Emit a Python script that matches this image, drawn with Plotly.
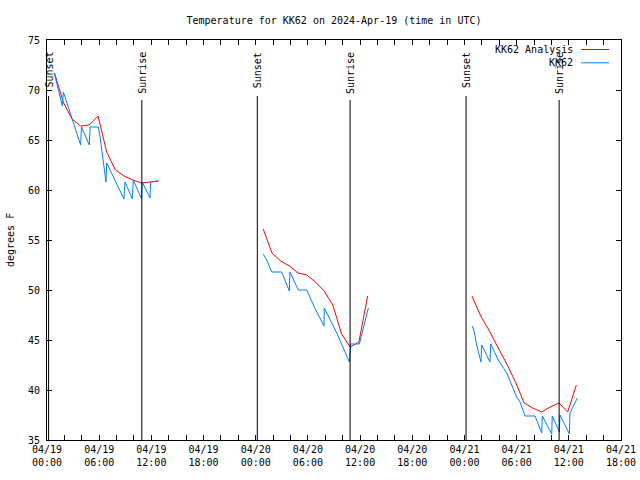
import plotly.graph_objects as go
import pandas as pd

# ---------------- data ----------------
analysis_day1_times = ["2024-04-19 00:52", "2024-04-19 01:52", "2024-04-19 02:52", "2024-04-19 03:52",
                       "2024-04-19 04:52", "2024-04-19 05:52", "2024-04-19 06:52", "2024-04-19 07:52",
                       "2024-04-19 08:52", "2024-04-19 09:52", "2024-04-19 10:52", "2024-04-19 11:52",
                       "2024-04-19 12:52"]
analysis_day1_temps = [71.7, 68.8, 67.1, 66.4, 66.5, 67.4, 63.8, 62.0, 61.4, 61.0, 60.7, 60.8, 60.9]

analysis_day2_times = ["2024-04-20 00:52", "2024-04-20 01:52", "2024-04-20 02:52", "2024-04-20 03:52",
                       "2024-04-20 04:52", "2024-04-20 05:52", "2024-04-20 06:52", "2024-04-20 07:52",
                       "2024-04-20 08:52", "2024-04-20 09:52", "2024-04-20 10:52", "2024-04-20 11:52",
                       "2024-04-20 12:52"]
analysis_day2_temps = [56.1, 53.7, 52.9, 52.4, 51.7, 51.5, 50.8, 49.9, 48.5, 45.6, 44.3, 44.8, 49.4]

analysis_day3_times = ["2024-04-21 00:52", "2024-04-21 01:52", "2024-04-21 02:52", "2024-04-21 03:52",
                       "2024-04-21 04:52", "2024-04-21 05:52", "2024-04-21 06:52", "2024-04-21 07:52",
                       "2024-04-21 08:52", "2024-04-21 09:52", "2024-04-21 10:52", "2024-04-21 11:52",
                       "2024-04-21 12:52"]
analysis_day3_temps = [49.4, 47.4, 45.9, 44.3, 42.6, 40.8, 38.7, 38.2, 37.8, 38.3, 38.7, 37.8, 40.5]

obs_day1_times = ["2024-04-19 00:50", "2024-04-19 01:46", "2024-04-19 01:53", "2024-04-19 03:52",
                  "2024-04-19 03:58", "2024-04-19 04:52", "2024-04-19 04:57", "2024-04-19 05:54",
                  "2024-04-19 06:06", "2024-04-19 06:47", "2024-04-19 06:52", "2024-04-19 08:51",
                  "2024-04-19 08:58", "2024-04-19 09:49", "2024-04-19 09:55", "2024-04-19 10:53",
                  "2024-04-19 10:57", "2024-04-19 11:51", "2024-04-19 11:55", "2024-04-19 12:48"]
obs_day1_temps = [71.7, 68.4, 69.8, 64.5, 66.3, 64.5, 66.3, 66.3, 65.3, 60.8, 62.7, 59.1,
                  60.8, 59.1, 61.0, 59.1, 60.8, 59.2, 60.8, 60.9]

obs_day2_times = ["2024-04-20 00:52", "2024-04-20 01:16", "2024-04-20 01:50", "2024-04-20 02:59",
                  "2024-04-20 03:52", "2024-04-20 03:56", "2024-04-20 04:54", "2024-04-20 05:52",
                  "2024-04-20 06:44", "2024-04-20 07:51", "2024-04-20 07:53", "2024-04-20 09:19",
                  "2024-04-20 10:46", "2024-04-20 10:55", "2024-04-20 11:55", "2024-04-20 12:57"]
obs_day2_temps = [53.6, 53.0, 51.8, 51.8, 49.9, 51.8, 50.0, 50.0, 48.3, 46.4, 48.2, 45.7,
                  42.8, 44.6, 44.6, 48.2]

obs_day3_times = ["2024-04-21 00:54", "2024-04-21 01:08", "2024-04-21 01:24", "2024-04-21 01:54",
                  "2024-04-21 01:59", "2024-04-21 02:56", "2024-04-21 03:01", "2024-04-21 03:53",
                  "2024-04-21 04:52", "2024-04-21 06:00", "2024-04-21 06:23", "2024-04-21 06:58",
                  "2024-04-21 08:07", "2024-04-21 08:53", "2024-04-21 08:57", "2024-04-21 10:02",
                  "2024-04-21 10:06", "2024-04-21 10:54", "2024-04-21 10:59", "2024-04-21 12:04",
                  "2024-04-21 12:08", "2024-04-21 12:59"]
obs_day3_temps = [46.4, 45.8, 44.5, 42.8, 44.5, 42.8, 44.6, 43.0, 41.7, 39.3, 38.8, 37.4,
                  37.4, 35.7, 37.4, 35.6, 37.4, 35.8, 37.5, 35.6, 37.7, 39.2]

sunset_times = ["2024-04-19 00:11", "2024-04-20 00:11", "2024-04-21 00:11"]
sunrise_times = ["2024-04-19 10:54", "2024-04-20 10:51", "2024-04-21 10:53"]

tick_times = ["2024-04-19 00:00", "2024-04-19 06:00", "2024-04-19 12:00", "2024-04-19 18:00",
              "2024-04-20 00:00", "2024-04-20 06:00", "2024-04-20 12:00", "2024-04-20 18:00",
              "2024-04-21 00:00", "2024-04-21 06:00", "2024-04-21 12:00", "2024-04-21 18:00"]
tick_labels = ["04/19<br>00:00", "04/19<br>06:00", "04/19<br>12:00", "04/19<br>18:00",
               "04/20<br>00:00", "04/20<br>06:00", "04/20<br>12:00", "04/20<br>18:00",
               "04/21<br>00:00", "04/21<br>06:00", "04/21<br>12:00", "04/21<br>18:00"]

series_names = ["KK62 Analysis", "KK62"]
series_colors = ["#ff0000", "#0080ff"]

# ---------------- figure ----------------
FONT = "DejaVu Sans Mono"
W, H = 640, 480
L, R, T, B = 47, 19, 40, 40


def join(*parts):
    xs, ys = [], []
    for i, (t, v) in enumerate(parts):
        if i:
            xs.append(None)
            ys.append(None)
        xs += t
        ys += v
    return xs, ys


ax, ay = join((analysis_day1_times, analysis_day1_temps),
              (analysis_day2_times, analysis_day2_temps),
              (analysis_day3_times, analysis_day3_temps))
ox, oy = join((obs_day1_times, obs_day1_temps),
              (obs_day2_times, obs_day2_temps),
              (obs_day3_times, obs_day3_temps))

fig = go.Figure()
fig.add_trace(go.Scatter(x=ax, y=ay, mode="lines", name=series_names[0],
                         line=dict(color=series_colors[0], width=1), connectgaps=False))
fig.add_trace(go.Scatter(x=ox, y=oy, mode="lines", name=series_names[1],
                         line=dict(color=series_colors[1], width=1), connectgaps=False))

# sunrise / sunset markers
for lbl, times, ytop in (("Sunset", sunset_times, 69.4), ("Sunrise", sunrise_times, 69.0)):
    for t in times:
        fig.add_shape(type="line", xref="x", yref="y", x0=t, x1=t, y0=35, y1=ytop,
                      line=dict(color="black", width=1))
        fig.add_annotation(x=t, y=74.0, xref="x", yref="y", text=lbl, textangle=-90,
                           showarrow=False, xanchor="center", yanchor="top",
                           font=dict(family=FONT, size=10, color="black"))

# legend drawn gnuplot-style (text right-aligned, sample to the right)
pw = W - L - R
ph = H - T - B
for i, (nm, col) in enumerate(zip(series_names, series_colors)):
    ypx = 49.5 + i * 13.3
    yp = 1 - (ypx - T) / ph
    fig.add_annotation(xref="paper", yref="paper", x=(575 - L) / pw, y=yp, text=nm,
                       showarrow=False, xanchor="right", yanchor="middle",
                       font=dict(family=FONT, size=10, color="black"))
    fig.add_shape(type="line", xref="paper", yref="paper",
                  x0=(581 - L) / pw, x1=(609 - L) / pw, y0=yp, y1=yp,
                  line=dict(color=col, width=1))

# y-axis title
fig.add_annotation(xref="paper", yref="paper", x=(10 - L) / pw, y=0.5, text="degrees F",
                   textangle=-90, showarrow=False, xanchor="center", yanchor="middle",
                   font=dict(family=FONT, size=10, color="black"))

minor_ticks = [d.strftime("%Y-%m-%d %H:%M") for d in
               pd.date_range("2024-04-19 00:00", "2024-04-21 18:00", freq="2h")]

fig.update_layout(
    width=W, height=H,
    margin=dict(l=L, r=R, t=T, b=B, pad=0, autoexpand=False),
    plot_bgcolor="white", paper_bgcolor="white",
    showlegend=False,
    font=dict(family=FONT, size=10, color="black"),
    title=dict(text="Temperature for KK62 on 2024-Apr-19 (time in UTC)",
               x=(334) / W, xanchor="center", y=1 - 20 / H, yanchor="middle",
               font=dict(family=FONT, size=10, color="black"), automargin=False),
    xaxis=dict(type="date", range=["2024-04-19 00:00", "2024-04-21 18:00"],
               tickmode="array", tickvals=tick_times, ticktext=tick_labels,
               ticks="inside", ticklen=5, tickcolor="black", tickwidth=1,
               showline=True, linecolor="black", linewidth=1, mirror="allticks",
               showgrid=False, zeroline=False, automargin=False,
               minor=dict(tickmode="array", tickvals=minor_ticks, ticks="inside",
                          ticklen=5, tickcolor="black", showgrid=False),
               tickfont=dict(family=FONT, size=10, color="black")),
    yaxis=dict(range=[35, 75], tickmode="linear", tick0=35, dtick=5,
               ticks="inside", ticklen=5, tickcolor="black", tickwidth=1,
               showline=True, linecolor="black", linewidth=1, mirror="allticks",
               showgrid=False, zeroline=False, ticklabelstandoff=4, automargin=False,
               tickfont=dict(family=FONT, size=10, color="black")),
)

fig.write_html("out.html", config={"displayModeBar": False, "staticPlot": True},
               post_script="document.body.style.margin='0';document.body.style.overflow='hidden';")
